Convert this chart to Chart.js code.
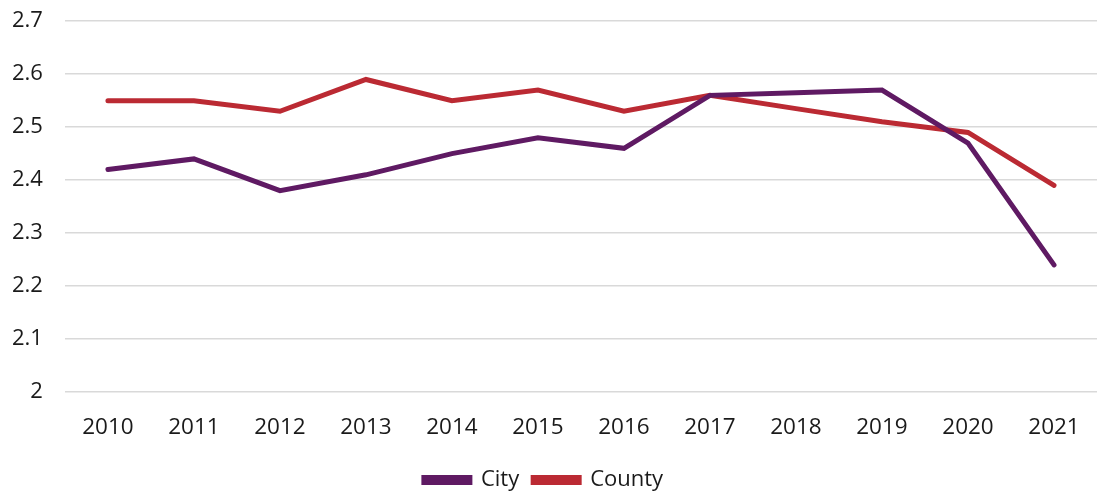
<!DOCTYPE html>
<html>
<head>
<meta charset="utf-8">
<script src="https://cdn.jsdelivr.net/npm/chart.js@4/dist/chart.umd.min.js"></script>
<style>
  html, body { margin: 0; padding: 0; background: #fff; overflow: hidden; }
  /* box sticks out above the window a bit so the top gridline sits near the edge */
  #box { width: 1100px; height: 505px; margin-top: -14px; }
</style>
</head>
<body>
<div id="box"><canvas id="chart"></canvas></div>
<script>
// data
var years = ['2010', '2011', '2012', '2013', '2014', '2015', '2016', '2017', '2018', '2019', '2020', '2021'];
var cityValues = [2.42, 2.44, 2.38, 2.41, 2.45, 2.48, 2.46, 2.56, 2.565, 2.57, 2.47, 2.24];
var countyValues = [2.55, 2.55, 2.53, 2.59, 2.55, 2.57, 2.53, 2.56, 2.535, 2.51, 2.49, 2.39];

var colours = {
    city: '#5f1a63',
    county: '#bb2a33',
    grid: '#d9d9d9',
    text: '#1a1a1a'
};

Chart.defaults.font.family = '"Open Sans", "Noto Sans", sans-serif';
Chart.defaults.color = colours.text;

var ctx = document.getElementById('chart').getContext('2d');
var myChart = new Chart(ctx, {
    type: 'line',
    data: {
        labels: years,
        datasets: [{
            label: 'City',
            data: cityValues,
            borderColor: colours.city,
            backgroundColor: colours.city,
            borderWidth: 5,
            borderCapStyle: 'round',
            pointRadius: 0,
            tension: 0
        }, {
            label: 'County',
            data: countyValues,
            borderColor: colours.county,
            backgroundColor: colours.county,
            borderWidth: 5,
            borderCapStyle: 'round',
            pointRadius: 0,
            tension: 0
        }]
    },
    options: {
        responsive: true,
        maintainAspectRatio: false,
        animation: false,
        layout: { padding: { top: 0, right: 3, left: -10, bottom: -10 } },
        plugins: {
            legend: {
                position: 'bottom',
                labels: {
                    boxWidth: 46,
                    boxHeight: 5,
                    padding: 14,
                    font: { size: 22 }
                }
            },
            tooltip: { enabled: false }
        },
        scales: {
            x: {
                offset: true,
                grid: { display: false },
                border: { display: false },
                ticks: { font: { size: 22.5 }, padding: 14, maxRotation: 0 }
            },
            y: {
                min: 2,
                max: 2.7,
                ticks: {
                    stepSize: 0.1,
                    font: { size: 22 },
                    padding: 22,
                    callback: function (v) { return Math.round(v * 10) / 10; }
                },
                grid: { color: colours.grid, lineWidth: 1.5, drawTicks: false },
                border: { display: false }
            }
        }
    }
});
</script>
</body>
</html>
